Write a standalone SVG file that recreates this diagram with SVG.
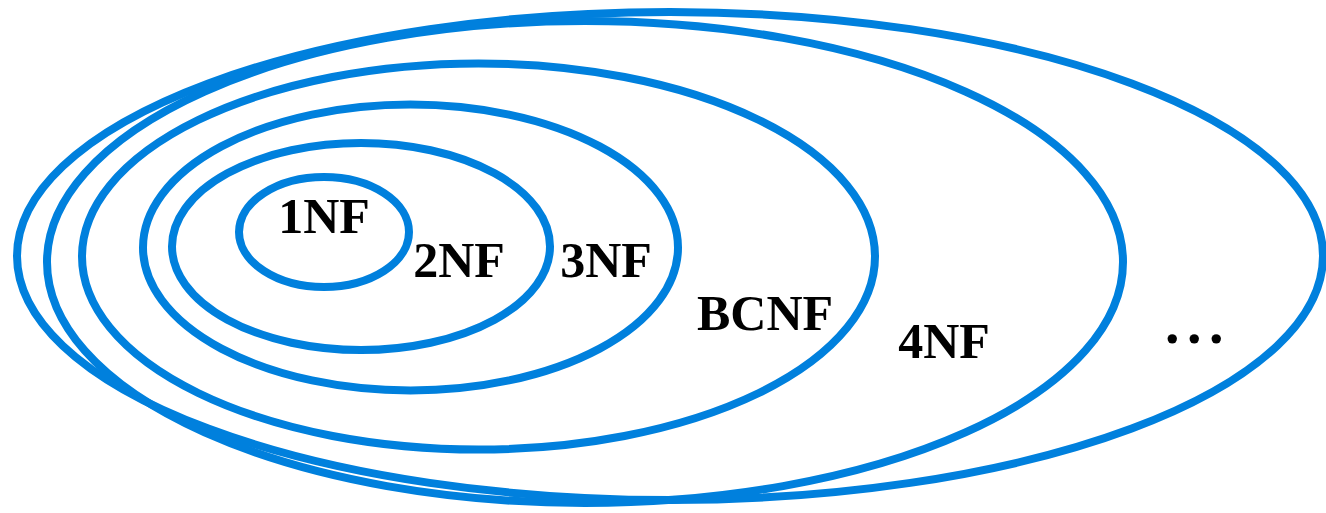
<svg xmlns="http://www.w3.org/2000/svg" width="1326" height="513" viewBox="0 0 1326 513">
  <style>
    .ring { fill: none; stroke: #0080dd; stroke-width: 8; }
    .lbl { font-family: "Liberation Serif", "Times New Roman", serif; font-weight: bold; font-size: 50px; fill: #000; text-anchor: middle; }
    .dots { font-family: "Liberation Serif", "Times New Roman", serif; font-weight: bold; font-size: 58px; fill: #000; }
  </style>
  <rect width="1326" height="513" fill="#fff"/>

  <!-- Nested normal forms, outermost first -->
  <g id="nf-more">
    <ellipse class="ring" cx="670" cy="256" rx="653" ry="244"/>
    <text class="dots" x="1165 1187 1209" y="343">...</text>
  </g>
  <g id="nf4">
    <ellipse class="ring" cx="585" cy="262" rx="538" ry="241"/>
    <text class="lbl" x="944" y="358">4NF</text>
  </g>
  <g id="bcnf">
    <ellipse class="ring" cx="478.5" cy="256.5" rx="396.5" ry="193"/>
    <text class="lbl" x="765" y="330">BCNF</text>
  </g>
  <g id="nf3">
    <ellipse class="ring" cx="410.5" cy="247.5" rx="267.5" ry="143"/>
    <text class="lbl" x="606" y="277">3NF</text>
  </g>
  <g id="nf2">
    <ellipse class="ring" cx="361" cy="246.5" rx="189" ry="103.5"/>
    <text class="lbl" x="459" y="277">2NF</text>
  </g>
  <g id="nf1">
    <ellipse class="ring" cx="324" cy="232" rx="85" ry="55"/>
    <text class="lbl" x="324" y="233">1NF</text>
  </g>
</svg>
